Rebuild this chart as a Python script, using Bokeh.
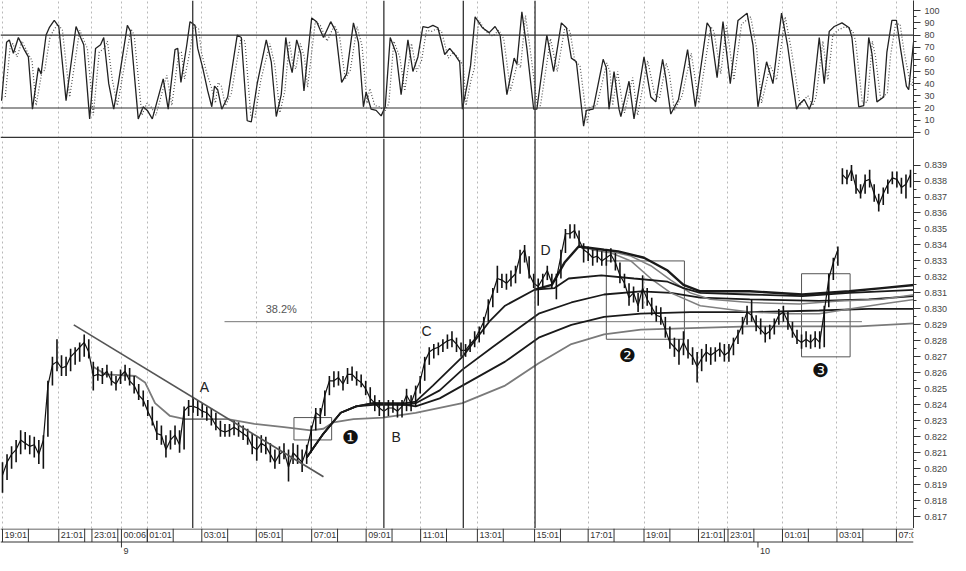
from bokeh.plotting import figure
from bokeh.models import Range1d, FixedTicker, Span, Grid, NumeralTickFormatter
from bokeh.layouts import column
from bokeh.embed import file_html
from bokeh.resources import INLINE
from bokeh.core.properties import value

# ---------------- data ----------------
# x axis: bar index (10-minute bars)
tick_bars = [0, 12.4, 19.7, 26.2, 31.9, 43.9, 55.9, 68.1, 80.1, 92.1, 104.6, 117.2,
             129.0, 141.3, 153.3, 159.8, 171.8, 183.8, 196.9]
tick_labels = ["19:01", "21:01", "23:01", "00:06", "01:01", "03:01", "05:01", "07:01",
               "09:01", "11:01", "13:01", "15:01", "17:01", "19:01", "21:01", "23:01",
               "01:01", "03:01", "07:01"]
day_bars = [26.2, 166.4]
day_labels = ["9", "10"]

price_ticks = [0.817, 0.818, 0.819, 0.820, 0.821, 0.822, 0.823, 0.824, 0.825, 0.826, 0.827,
               0.828, 0.829, 0.830, 0.831, 0.832, 0.833, 0.834, 0.835, 0.836, 0.837, 0.838, 0.839]
price_minor = [0.8175, 0.8185, 0.8195, 0.8205, 0.8215, 0.8225, 0.8235, 0.8245, 0.8255, 0.8265,
               0.8275, 0.8285, 0.8295, 0.8305, 0.8315, 0.8325, 0.8335, 0.8345, 0.8355, 0.8365,
               0.8375, 0.8385]
stoch_ticks = [0, 10, 20, 30, 40, 50, 60, 70, 80, 90, 100]
stoch_minor = [5, 15, 25, 35, 45, 55, 65, 75, 85, 95]
stoch_levels = [80, 20]

hi = [0.8204, 0.8209, 0.8214, 0.8218, 0.8224, 0.8223, 0.8221, 0.8220, 0.8218, 0.8221,
      0.8255, 0.8270, 0.8281, 0.8271, 0.8270, 0.8275, 0.8276, 0.8279, 0.8284, 0.8281,
      0.8267, 0.8264, 0.8263, 0.8265, 0.8261, 0.8258, 0.8262, 0.8265, 0.8263, 0.8258,
      0.8253, 0.8249, 0.8243, 0.8239, 0.8230, 0.8227, 0.8221, 0.8224, 0.8227, 0.8224,
      0.8239, 0.8243, 0.8244, 0.8243, 0.8241, 0.8239, 0.8238, 0.8235, 0.8230, 0.8228,
      0.8228, 0.8230, 0.8229, 0.8227, 0.8225, 0.8222, 0.8220, 0.8221, 0.8220, 0.8216,
      0.8212, 0.8214, 0.8216, 0.8212, 0.8216, 0.8215, 0.8212, 0.8215, 0.8227, 0.8238,
      0.8238, 0.8249, 0.8258, 0.8261, 0.8261, 0.8258, 0.8263, 0.8264, 0.8261, 0.8259,
      0.8255, 0.8251, 0.8246, 0.8243, 0.8241, 0.8243, 0.8243, 0.8241, 0.8243, 0.8250,
      0.8246, 0.8252, 0.8258, 0.8270, 0.8276, 0.8278, 0.8279, 0.8281, 0.8284, 0.8286,
      0.8282, 0.8279, 0.8278, 0.8281, 0.8286, 0.8289, 0.8295, 0.8306, 0.8313, 0.8327,
      0.8322, 0.8322, 0.8324, 0.8327, 0.8337, 0.8340, 0.8333, 0.8322, 0.8319, 0.8322,
      0.8327, 0.8322, 0.8322, 0.8337, 0.8350, 0.8353, 0.8353, 0.8349, 0.8341, 0.8339,
      0.8337, 0.8337, 0.8336, 0.8337, 0.8338, 0.8335, 0.8329, 0.8322, 0.8316, 0.8314,
      0.8310, 0.8321, 0.8313, 0.8307, 0.8302, 0.8301, 0.8295, 0.8289, 0.8282, 0.8281,
      0.8286, 0.8281, 0.8276, 0.8273, 0.8275, 0.8278, 0.8276, 0.8276, 0.8279, 0.8278,
      0.8278, 0.8282, 0.8287, 0.8295, 0.8302, 0.8306, 0.8296, 0.8294, 0.8289, 0.8290,
      0.8294, 0.8300, 0.8302, 0.8298, 0.8292, 0.8287, 0.8284, 0.8286, 0.8284, 0.8286,
      0.8286, 0.8302, 0.8322, 0.8332, 0.8339, 0.8388, 0.8387, 0.8390, 0.8384, 0.8378,
      0.8384, 0.8387, 0.8378, 0.8372, 0.8376, 0.8381, 0.8386, 0.8386, 0.8382, 0.8384,
      0.8387]
lo = [0.8185, 0.8193, 0.8200, 0.8204, 0.8209, 0.8212, 0.8209, 0.8207, 0.8203, 0.8200,
      0.8220, 0.8252, 0.8261, 0.8258, 0.8258, 0.8261, 0.8265, 0.8267, 0.8270, 0.8269,
      0.8249, 0.8255, 0.8253, 0.8257, 0.8252, 0.8249, 0.8253, 0.8255, 0.8252, 0.8247,
      0.8243, 0.8239, 0.8233, 0.8227, 0.8218, 0.8215, 0.8207, 0.8212, 0.8215, 0.8210,
      0.8212, 0.8233, 0.8235, 0.8233, 0.8232, 0.8230, 0.8227, 0.8224, 0.8220, 0.8220,
      0.8220, 0.8221, 0.8220, 0.8218, 0.8215, 0.8209, 0.8205, 0.8210, 0.8209, 0.8204,
      0.8200, 0.8203, 0.8206, 0.8192, 0.8203, 0.8203, 0.8198, 0.8203, 0.8210, 0.8224,
      0.8228, 0.8233, 0.8246, 0.8251, 0.8252, 0.8249, 0.8253, 0.8255, 0.8252, 0.8251,
      0.8246, 0.8241, 0.8236, 0.8233, 0.8232, 0.8233, 0.8235, 0.8232, 0.8232, 0.8236,
      0.8236, 0.8239, 0.8247, 0.8255, 0.8265, 0.8269, 0.8271, 0.8273, 0.8275, 0.8276,
      0.8273, 0.8270, 0.8270, 0.8273, 0.8276, 0.8279, 0.8284, 0.8292, 0.8301, 0.8310,
      0.8313, 0.8312, 0.8314, 0.8316, 0.8322, 0.8329, 0.8319, 0.8313, 0.8302, 0.8313,
      0.8318, 0.8313, 0.8306, 0.8319, 0.8335, 0.8344, 0.8344, 0.8339, 0.8329, 0.8330,
      0.8327, 0.8329, 0.8327, 0.8327, 0.8329, 0.8324, 0.8316, 0.8313, 0.8302, 0.8304,
      0.8298, 0.8300, 0.8302, 0.8296, 0.8292, 0.8290, 0.8282, 0.8275, 0.8270, 0.8265,
      0.8271, 0.8269, 0.8265, 0.8254, 0.8261, 0.8267, 0.8265, 0.8267, 0.8270, 0.8267,
      0.8267, 0.8271, 0.8278, 0.8284, 0.8290, 0.8292, 0.8286, 0.8284, 0.8279, 0.8281,
      0.8284, 0.8290, 0.8292, 0.8287, 0.8282, 0.8278, 0.8275, 0.8276, 0.8275, 0.8276,
      0.8275, 0.8276, 0.8301, 0.8318, 0.8327, 0.8378, 0.8378, 0.8380, 0.8372, 0.8369,
      0.8372, 0.8376, 0.8367, 0.8361, 0.8365, 0.8372, 0.8378, 0.8376, 0.8372, 0.8369,
      0.8376]
cl = [0.8196, 0.8204, 0.8209, 0.8212, 0.8218, 0.8216, 0.8214, 0.8215, 0.8209, 0.8218,
      0.8252, 0.8265, 0.8267, 0.8263, 0.8264, 0.8270, 0.8273, 0.8276, 0.8279, 0.8273,
      0.8258, 0.8259, 0.8258, 0.8261, 0.8255, 0.8253, 0.8258, 0.8261, 0.8255, 0.8252,
      0.8246, 0.8243, 0.8236, 0.8230, 0.8222, 0.8221, 0.8212, 0.8218, 0.8221, 0.8215,
      0.8236, 0.8239, 0.8239, 0.8238, 0.8236, 0.8235, 0.8232, 0.8227, 0.8224, 0.8223,
      0.8224, 0.8226, 0.8224, 0.8222, 0.8220, 0.8214, 0.8212, 0.8216, 0.8214, 0.8209,
      0.8204, 0.8209, 0.8211, 0.8201, 0.8210, 0.8207, 0.8204, 0.8212, 0.8224, 0.8235,
      0.8233, 0.8246, 0.8255, 0.8255, 0.8257, 0.8253, 0.8259, 0.8259, 0.8256, 0.8254,
      0.8250, 0.8244, 0.8241, 0.8238, 0.8236, 0.8238, 0.8238, 0.8236, 0.8239, 0.8246,
      0.8241, 0.8249, 0.8255, 0.8267, 0.8273, 0.8275, 0.8276, 0.8278, 0.8280, 0.8281,
      0.8278, 0.8274, 0.8274, 0.8278, 0.8281, 0.8286, 0.8292, 0.8302, 0.8310, 0.8319,
      0.8318, 0.8316, 0.8319, 0.8322, 0.8333, 0.8337, 0.8322, 0.8316, 0.8314, 0.8319,
      0.8324, 0.8316, 0.8319, 0.8333, 0.8347, 0.8347, 0.8349, 0.8343, 0.8337, 0.8335,
      0.8332, 0.8333, 0.8330, 0.8332, 0.8334, 0.8329, 0.8321, 0.8316, 0.8307, 0.8310,
      0.8302, 0.8313, 0.8306, 0.8301, 0.8296, 0.8295, 0.8287, 0.8279, 0.8276, 0.8273,
      0.8279, 0.8273, 0.8270, 0.8264, 0.8269, 0.8273, 0.8271, 0.8273, 0.8275, 0.8271,
      0.8273, 0.8279, 0.8284, 0.8290, 0.8298, 0.8296, 0.8290, 0.8287, 0.8284, 0.8286,
      0.8290, 0.8296, 0.8298, 0.8292, 0.8286, 0.8281, 0.8279, 0.8281, 0.8279, 0.8282,
      0.8279, 0.8298, 0.8319, 0.8329, 0.8337, 0.8384, 0.8381, 0.8387, 0.8376, 0.8372,
      0.8380, 0.8381, 0.8372, 0.8365, 0.8372, 0.8378, 0.8382, 0.8381, 0.8376, 0.8378,
      0.8384]
bars = list(range(len(hi)))
gap_at = 185  # first bar after the price gap

# moving averages (sampled)
ma_g_x = [19.9, 22.7, 29.3, 31.4, 33.6, 36.9, 40.2, 49.6, 55.5, 62.0, 67.9, 70.7, 72.9, 77.3,
          83.8, 91.0, 101.3, 110.7, 118.1, 125.3, 132.5, 140.6, 151.5, 164.6, 179.9, 188.6, 201.1]
ma_g_y = [0.8264, 0.8259, 0.8258, 0.8254, 0.8241, 0.8233, 0.8231, 0.8231, 0.8228, 0.8226,
          0.8224, 0.8225, 0.8229, 0.8231, 0.8232, 0.8235, 0.8241, 0.8252, 0.8266, 0.8278,
          0.8284, 0.8287, 0.8288, 0.8289, 0.8289, 0.8289, 0.8291]
ma1_x = [67.0, 70.7, 74.5, 77.9, 81.7, 88.9, 91.0, 94.8, 101.3, 107.2, 110.7, 117.2, 121.6,
         124.7, 131.9, 139.1, 146.5, 150.0, 153.7, 164.6, 176.2, 186.5, 193.7, 201.1]
ma1_y = [0.8207, 0.8222, 0.8235, 0.8239, 0.8241, 0.8241, 0.8242, 0.8252, 0.8270, 0.8292,
         0.8302, 0.8312, 0.8313, 0.8319, 0.8321, 0.8319, 0.8317, 0.8313, 0.8310, 0.8309,
         0.8308, 0.8310, 0.8311, 0.8312]
ma2_x = [67.0, 70.7, 74.5, 77.9, 81.7, 88.9, 91.0, 96.3, 101.3, 107.9, 118.1, 125.3, 132.5,
         140.6, 147.2, 153.7, 164.6, 179.9, 190.8, 201.1]
ma2_y = [0.8207, 0.8222, 0.8235, 0.8239, 0.8241, 0.8240, 0.8241, 0.8249, 0.8262, 0.8276,
         0.8297, 0.8304, 0.8309, 0.8311, 0.8310, 0.8307, 0.8306, 0.8305, 0.8306, 0.8308]
ma3_x = [67.0, 70.7, 74.5, 77.9, 81.7, 88.9, 91.0, 96.3, 101.3, 110.7, 118.1, 125.3, 132.5,
         140.6, 151.5, 164.6, 179.9, 190.8, 201.1]
ma3_y = [0.8207, 0.8222, 0.8235, 0.8239, 0.8240, 0.8240, 0.8239, 0.8244, 0.8252, 0.8267,
         0.8282, 0.8290, 0.8295, 0.8297, 0.8298, 0.8298, 0.8299, 0.8300, 0.8300]
ma_fast_x = [117.2, 121.0, 123.8, 126.9, 132.5, 135.6, 141.3, 146.5, 150.0, 153.7, 164.6,
             176.2, 186.5, 193.7, 201.1]
ma_fast_y = [0.8312, 0.8315, 0.8329, 0.8339, 0.8337, 0.8336, 0.8332, 0.8324, 0.8315, 0.8311,
             0.8311, 0.8309, 0.8311, 0.8313, 0.8315]
ma_g1_x = [127.5, 132.5, 138.4, 142.8, 147.2, 151.5, 155.9, 164.6, 175.5, 184.3, 193.7, 201.1]
ma_g1_y = [0.8338, 0.8337, 0.8333, 0.8327, 0.8318, 0.8310, 0.8306, 0.8304, 0.8303, 0.8305,
           0.8306, 0.8309]
ma_g2_x = [129.7, 134.1, 138.4, 142.8, 147.2, 153.7, 164.6, 173.4, 179.9, 186.5, 193.7, 201.1]
ma_g2_y = [0.8337, 0.8335, 0.8330, 0.8319, 0.8310, 0.8302, 0.8298, 0.8297, 0.8297, 0.8300,
           0.8303, 0.8306]

# annotations
vlines = [41.9, 84.0, 101.5, 117.3]
trend_x = [15.7, 70.7]
trend_y = [0.8290, 0.8195]
fib_x = [48.9, 189.3]
fib_y = [0.8292, 0.8292]
fib_label = "38.2%"
fib_label_x = 61.4
fib_label_y = 0.8300
box_left = [64.2, 133.0, 176.0]
box_right = [72.5, 150.2, 186.7]
box_bottom = [0.8218, 0.8281, 0.8270]
box_top = [0.8232, 0.8330, 0.8322]
letters = ["A", "B", "C", "D"]
letter_x = [44.5, 86.7, 93.4, 119.6]
letter_y = [0.8251, 0.8220, 0.8286, 0.8337]
marks = ["\u2776", "\u2777", "\u2778"]
mark_x = [76.6, 137.6, 180.1]
mark_y = [0.8220, 0.8271, 0.8262]

# stochastic %K (turning points) and %D
k_x = [-0.2, 0.9, 1.5, 2.4, 3.5, 4.8, 5.7, 6.6, 7.9, 8.5, 9.6, 10.3, 11.4, 12.4, 14.0, 16.2,
       17.2, 17.9, 19.2, 20.5, 21.6, 22.3, 23.4, 24.5, 25.5, 27.5, 28.2, 29.9, 31.0, 31.9, 33.0,
       35.4, 36.5, 38.0, 38.6, 39.3, 40.6, 41.3, 42.4, 43.0, 44.1, 45.2, 46.1, 46.7, 47.4, 48.3,
       49.6, 51.7, 52.6, 53.9, 54.8, 56.1, 58.1, 59.2, 60.3, 61.4, 62.4, 63.1, 63.8, 64.8, 65.7,
       66.4, 68.1, 69.2, 70.7, 72.3, 73.4, 74.7, 75.8, 77.3, 78.4, 79.5, 80.1, 81.2, 82.3, 83.4,
       84.3, 85.4, 86.7, 87.8, 89.3, 90.4, 91.5, 92.6, 93.7, 94.8, 95.9, 97.4, 98.5, 99.6, 100.7,
       101.3, 102.4, 103.1, 104.1, 105.7, 107.2, 108.5, 109.6, 111.1, 112.7, 113.3, 114.4, 115.5,
       117.0, 117.7, 119.9, 121.4, 123.1, 124.2, 125.3, 126.4, 128.0, 128.6, 130.1, 132.3, 133.0,
       133.6, 134.7, 135.8, 136.2, 138.0, 139.1, 141.3, 142.8, 143.9, 145.4, 146.1, 147.2, 148.9,
       150.9, 152.6, 155.2, 155.9, 157.4, 158.7, 160.3, 162.0, 164.0, 165.3, 166.4, 168.3, 169.7,
       171.6, 172.9, 174.9, 175.5, 176.6, 177.7, 178.4, 179.9, 181.0, 182.1, 183.2, 184.9, 186.5,
       187.1, 188.6, 189.7, 190.8, 191.5, 192.6, 194.1, 194.8, 195.9, 196.9, 197.8, 199.1, 199.6,
       200.7]
k_v = [26, 74, 76, 65, 78, 68, 62, 19, 53, 48, 80, 86, 92, 87, 26, 87, 78, 72, 11, 69, 72, 78,
       40, 19, 40, 88, 83, 11, 21, 18, 11, 44, 19, 68, 69, 41, 72, 91, 88, 69, 53, 34, 21, 38, 35,
       19, 29, 80, 78, 9.5, 8.5, 40, 76, 58, 13, 31, 78, 60, 49, 76, 65, 34, 94, 91, 78, 91, 83,
       41, 48, 90, 74, 21, 33, 19, 18, 13.5, 21, 78, 65, 31, 76, 50, 62, 87, 86, 88, 86, 64, 69,
       64, 58, 19, 40, 55, 95, 86, 82, 87, 80, 31, 61, 56, 99, 69, 19, 19, 80, 50, 90, 86, 61, 58,
       5, 18, 19, 60, 53, 19, 50, 19, 13, 42, 11, 62, 29, 25, 60, 45, 15, 27, 68, 21, 90, 86, 45,
       91, 40, 92, 98, 72, 21, 58, 40, 98, 72, 19, 23, 27, 19, 26, 78, 40, 83, 87, 90, 86, 78, 21,
       22, 78, 65, 25, 29, 66, 92, 92, 69, 38, 35, 75]
d_x = [0.6, 1.7, 2.3, 3.2, 4.3, 5.6, 6.5, 7.4, 8.7, 9.3, 10.4, 11.1, 12.2, 13.2, 14.8, 17.0,
       18.0, 18.7, 20.0, 21.3, 22.4, 23.1, 24.2, 25.3, 26.3, 28.3, 29.0, 30.7, 31.8, 32.7, 33.8,
       36.2, 37.3, 38.8, 39.4, 40.1, 41.4, 42.1, 43.2, 43.8, 44.9, 46.0, 46.9, 47.5, 48.2, 49.1,
       50.4, 52.5, 53.4, 54.7, 55.6, 56.9, 58.9, 60.0, 61.1, 62.2, 63.2, 63.9, 64.6, 65.6, 66.5,
       67.2, 68.9, 70.0, 71.5, 73.1, 74.2, 75.5, 76.6, 78.1, 79.2, 80.3, 80.9, 82.0, 83.1, 84.2,
       85.1, 86.2, 87.5, 88.6, 90.1, 91.2, 92.3, 93.4, 94.5, 95.6, 96.7, 98.2, 99.3, 100.4, 101.5,
       102.1, 103.2, 103.9, 104.9, 106.5, 108.0, 109.3, 110.4, 111.9, 113.5, 114.1, 115.2, 116.3,
       117.8, 118.5, 120.7, 122.2, 123.9, 125.0, 126.1, 127.2, 128.8, 129.4, 130.9, 133.1, 133.8,
       134.4, 135.5, 136.6, 137.0, 138.8, 139.9, 142.1, 143.6, 144.7, 146.2, 146.9, 148.0, 149.7,
       151.7, 153.4, 156.0, 156.7, 158.2, 159.5, 161.1, 162.8, 164.8, 166.1, 167.2, 169.1, 170.5,
       172.4, 173.7, 175.7, 176.3, 177.4, 178.5, 179.2, 180.7, 181.8, 182.9, 184.0, 185.7, 187.3,
       187.9, 189.4, 190.5, 191.6, 192.3, 193.4, 194.9, 195.6, 196.7, 197.7, 198.6, 199.9, 200.4,
       201.5]
d_v = [29, 71, 73, 62, 75, 65, 59, 22, 50, 51, 77, 83, 89, 84, 29, 84, 75, 69, 14, 66, 69, 75,
       43, 22, 43, 85, 80, 14, 24, 21, 14, 47, 22, 65, 66, 44, 69, 88, 85, 66, 50, 37, 24, 41, 38,
       22, 32, 77, 75, 13, 12, 43, 73, 55, 16, 34, 75, 57, 52, 73, 62, 37, 91, 88, 75, 88, 80,
       44, 51, 87, 71, 24, 36, 22, 21, 17, 24, 75, 62, 34, 73, 50, 59, 84, 83, 85, 83, 61, 66,
       61, 55, 22, 43, 52, 92, 83, 79, 84, 77, 34, 58, 53, 96, 66, 22, 22, 77, 50, 87, 83, 58, 55,
       8, 21, 22, 57, 50, 22, 50, 22, 16, 45, 14, 59, 32, 28, 57, 48, 18, 30, 65, 24, 87, 83, 48,
       88, 43, 89, 95, 69, 24, 55, 43, 95, 69, 22, 26, 30, 22, 29, 75, 43, 80, 84, 87, 83, 75, 24,
       25, 75, 62, 28, 32, 63, 89, 89, 66, 41, 38, 72]

# ---------------- styling ----------------
FONT = "Liberation Sans"
W = 950
RB = 36
BOX_W = 5.7  # label box width in bars
xr = Range1d(-0.44, 200.66)


def make_fig(h, yr, yaxis=True):
    p = figure(width=W, height=h, x_range=xr, y_range=yr, output_backend="svg",
               toolbar_location=None, x_axis_location=None,
               y_axis_location=("right" if yaxis else None),
               min_border_left=0, min_border_right=RB, min_border_top=0, min_border_bottom=0)
    p.outline_line_color = None
    p.grid.grid_line_color = None
    p.background_fill_color = "white"
    p.border_fill_color = "white"
    return p


def style_axis(p, ticks, minor):
    ax = p.yaxis[0]
    ax.ticker = FixedTicker(ticks=ticks, minor_ticks=minor)
    ax.major_tick_out = 7
    ax.major_tick_in = 0
    ax.minor_tick_out = 3
    ax.minor_tick_in = 0
    ax.major_tick_line_color = "#333333"
    ax.minor_tick_line_color = "#333333"
    ax.axis_line_color = "#333333"
    ax.major_label_standoff = 4
    ax.major_label_text_font = FONT
    ax.major_label_text_font_size = "9px"
    ax.major_label_text_color = "#444444"


def add_grid(p):
    p.add_layout(Grid(dimension=0, ticker=FixedTicker(ticks=tick_bars),
                      grid_line_color="#b8b8b8", grid_line_dash="2 3", grid_line_width=1))


def add_vlines(p):
    for v in vlines:
        p.add_layout(Span(location=v, dimension="height", line_color="#333333", line_width=1.3))


# ---- top: stochastic ----
p1 = make_fig(138, Range1d(-5.1, 108.4))
style_axis(p1, stoch_ticks, stoch_minor)
add_grid(p1)
add_vlines(p1)
for lv in stoch_levels:
    p1.add_layout(Span(location=lv, dimension="width", line_color="#333333", line_width=1.2))
p1.add_layout(Span(location=-4.3, dimension="width", line_color="#333333", line_width=1.4))
p1.line(d_x, d_v, line_color="#555555", line_width=1.2, line_dash="1 2")
p1.line(k_x, k_v, line_color="#222222", line_width=1.3)

# ---- middle: price ----
p2 = make_fig(390, Range1d(0.81626, 0.84066))
style_axis(p2, price_ticks, price_minor)
p2.yaxis[0].formatter = NumeralTickFormatter(format="0.000")
add_grid(p2)
add_vlines(p2)

p2.line(fib_x, fib_y, line_color="#777777", line_width=1)
p2.text(x=[fib_label_x], y=[fib_label_y], text=[fib_label], text_font=value(FONT),
        text_font_size="11px", text_color="#555555", text_align="center", text_baseline="middle")
p2.quad(left=box_left, right=box_right, bottom=box_bottom, top=box_top,
        fill_color=None, line_color="#555555", line_width=1)

p2.line(ma_g_x, ma_g_y, line_color="#7a7a7a", line_width=1.8)
p2.line(ma3_x, ma3_y, line_color="#1a1a1a", line_width=1.8)
p2.line(ma2_x, ma2_y, line_color="#1a1a1a", line_width=1.8)
p2.line(ma_g2_x, ma_g2_y, line_color="#808080", line_width=1.5)
p2.line(ma_g1_x, ma_g1_y, line_color="#808080", line_width=1.5)
p2.line(ma1_x, ma1_y, line_color="#1a1a1a", line_width=1.8)
p2.line(ma_fast_x, ma_fast_y, line_color="#1a1a1a", line_width=2.4)

p2.segment(x0=bars, y0=lo, x1=bars, y1=hi, line_color="#111111", line_width=1.6)
p2.line(bars[:gap_at], cl[:gap_at], line_color="#111111", line_width=1.2)
p2.line(bars[gap_at:], cl[gap_at:], line_color="#111111", line_width=1.2)

p2.line(trend_x, trend_y, line_color="#555555", line_width=1.7)

p2.text(x=letter_x, y=letter_y, text=letters, text_font=value(FONT), text_font_size="14px",
        text_color="#222222", text_align="center", text_baseline="middle")
p2.text(x=mark_x, y=mark_y, text=marks, text_font=value("DejaVu Sans"), text_font_size="19px",
        text_color="#111111", text_align="center", text_baseline="middle")

# ---- bottom: time strip ----
p3 = make_fig(27, Range1d(0, 27), yaxis=False)
p3.add_layout(Span(location=26.5, dimension="width", line_color="#333333", line_width=1))
p3.add_layout(Span(location=13.5, dimension="width", line_color="#333333", line_width=1))
p3.segment(x0=tick_bars, y0=13.5, x1=tick_bars, y1=27, line_color="#333333", line_width=1)
box_ends = [t + BOX_W for t in tick_bars]
p3.segment(x0=box_ends, y0=13.5, x1=box_ends, y1=27, line_color="#333333", line_width=1)
p3.text(x=tick_bars, y=20.2, text=tick_labels, x_offset=2, text_font=value(FONT),
        text_font_size="9px", text_color="#333333", text_align="left", text_baseline="middle")
p3.segment(x0=day_bars, y0=13.5, x1=day_bars, y1=8, line_color="#333333", line_width=1)
p3.text(x=day_bars, y=4.5, text=day_labels, x_offset=2, text_font=value(FONT),
        text_font_size="9px", text_color="#333333", text_align="left", text_baseline="middle")

layout = column(p1, p2, p3)
open("out.html", "w").write(file_html(layout, INLINE))
